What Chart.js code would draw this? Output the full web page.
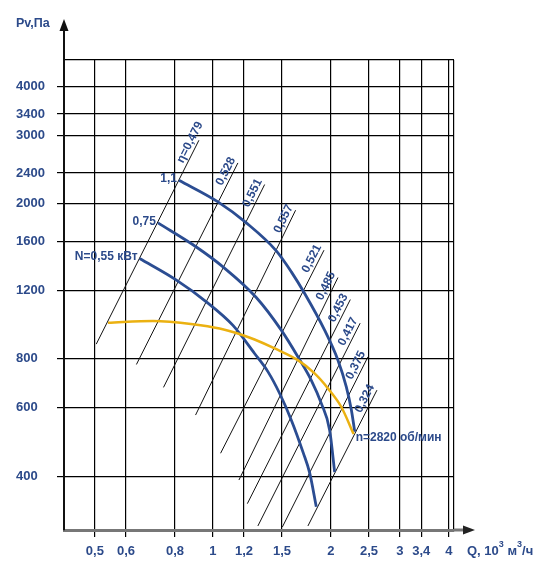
<!DOCTYPE html>
<html lang="ru">
<head>
  <meta charset="UTF-8">
  <title>Pv-Q</title>
  <style>
    body { margin: 0; background: #fff; }
    #wrap { width: 542px; height: 569px; position: relative; }
  </style>
</head>
<body>
<div id="wrap"><canvas id="fanChart"></canvas></div>
<script src="https://cdn.jsdelivr.net/npm/chart.js@4.4.1/dist/chart.umd.min.js"></script>
<script>
  // axes (log-log)
  const qTicks = [0.5, 0.6, 0.8, 1, 1.2, 1.5, 2, 2.5, 3, 3.4, 4];
  const pTicks = [400, 600, 800, 1200, 1600, 2000, 2400, 3000, 3400, 4000];
  const qMin = 0.417, qMax = 4.12;
  const pMin = 291, pMax = 4680;

  // fan curve, n=2820 rpm
  const fanQ = [0.540, 0.703, 0.889, 1.040, 1.193, 1.277, 1.437, 1.647, 1.817, 1.965, 2.126, 2.285];
  const fanP = [990, 1001, 982, 957, 920, 897, 851, 794, 734, 672, 602, 513];

  // power lines N, kW
  const n055Q = [0.650, 0.807, 0.962, 1.125, 1.277, 1.381, 1.480, 1.585, 1.700, 1.765, 1.835];
  const n055P = [1448, 1274, 1121, 975, 826, 742, 652, 557, 459, 408, 334];
  const n075Q = [0.724, 0.907, 1.061, 1.290, 1.494, 1.647, 1.782, 1.890, 1.985, 2.044];
  const n075P = [1787, 1550, 1378, 1150, 948, 810, 705, 615, 525, 410];
  const n110Q = [0.819, 1.030, 1.217, 1.451, 1.585, 1.714, 1.927, 2.084, 2.189, 2.255, 2.300];
  const n110P = [2299, 2023, 1787, 1515, 1338, 1177, 948, 794, 678, 591, 520];
  const powerLabels = ['N=0,55 кВт', '0,75', '1,1'];

  // efficiency lines, low and high ends
  const etaLabels = ['η=0,479', '0,528', '0,551', '0,557', '0,521', '0,485', '0,453', '0,417', '0,375', '0,324'];
  const etaQLow  = [0.504, 0.638, 0.748, 0.903, 1.046, 1.165, 1.224, 1.302, 1.503, 1.747];
  const etaPLow  = [873, 774, 676, 574, 458, 391, 340, 298, 296, 298];
  const etaQHigh = [0.921, 1.158, 1.355, 1.625, 1.920, 2.084, 2.241, 2.374, 2.486, 2.620];
  const etaPHigh = [2912, 2547, 2242, 1926, 1521, 1294, 1136, 988, 810, 665];

  const navy = '#2c4a8a';
  const blue = '#2b4d92';
  const yellow = '#ebb111';
  const family = '"Liberation Sans", Arial, sans-serif';

  function pts(qs, ps) {
    return qs.map((q, i) => ({ x: q, y: ps[i] }));
  }

  const datasets = [];
  datasets.push({
    data: pts(fanQ, fanP), borderColor: yellow, borderWidth: 2.5,
    cubicInterpolationMode: 'monotone', order: 0
  });
  [[n055Q, n055P], [n075Q, n075P], [n110Q, n110P]].forEach(function (c) {
    datasets.push({
      data: pts(c[0], c[1]), borderColor: blue, borderWidth: 2.8,
      cubicInterpolationMode: 'monotone', order: 1
    });
  });
  etaLabels.forEach(function (lab, i) {
    datasets.push({
      data: [{ x: etaQLow[i], y: etaPLow[i] }, { x: etaQHigh[i], y: etaPHigh[i] }],
      borderColor: '#111', borderWidth: 1, order: 2
    });
  });

  function edgeTick(list) {
    return function (ctx) {
      return ctx.tick && !list.includes(ctx.tick.value) ? 'rgba(0,0,0,0)' : '#000';
    };
  }

  // arrows, axis names and curve labels
  const overlay = {
    id: 'overlay',
    afterDraw(chart) {
      const ctx = chart.ctx, a = chart.chartArea;
      const x = chart.scales.x, y = chart.scales.y;
      ctx.save();

      // y axis going up to the arrow
      ctx.strokeStyle = '#111';
      ctx.lineWidth = 2;
      ctx.beginPath();
      ctx.moveTo(a.left, a.top);
      ctx.lineTo(a.left, 28);
      ctx.stroke();
      ctx.fillStyle = '#111';
      ctx.beginPath();
      ctx.moveTo(a.left, 19);
      ctx.lineTo(a.left - 4.5, 31);
      ctx.lineTo(a.left + 4.5, 31);
      ctx.closePath();
      ctx.fill();

      // x axis going right to the arrow
      ctx.strokeStyle = '#777';
      ctx.lineWidth = 3;
      ctx.beginPath();
      ctx.moveTo(a.right, a.bottom);
      ctx.lineTo(466, a.bottom);
      ctx.stroke();
      ctx.fillStyle = '#222';
      ctx.beginPath();
      ctx.moveTo(475, a.bottom);
      ctx.lineTo(463, a.bottom - 4.5);
      ctx.lineTo(463, a.bottom + 4.5);
      ctx.closePath();
      ctx.fill();

      ctx.fillStyle = navy;
      ctx.font = 'bold 12.5px ' + family;
      ctx.textAlign = 'left';
      ctx.textBaseline = 'middle';
      ctx.fillText('Pv,Па', 16, 24);

      // Q, 10^3 m^3/h
      let cx = 467;
      const cy = 551;
      const parts = [['Q, 10', false], ['3', true], [' м', false], ['3', true], ['/ч', false]];
      parts.forEach(function (p) {
        ctx.font = (p[1] ? 'bold 9px ' : 'bold 13px ') + family;
        ctx.fillText(p[0], cx, p[1] ? cy - 6 : cy);
        cx += ctx.measureText(p[0]).width;
      });

      // power labels at curve starts
      ctx.font = 'bold 12px ' + family;
      ctx.textAlign = 'right';
      ctx.textBaseline = 'alphabetic';
      [[n055Q, n055P], [n075Q, n075P], [n110Q, n110P]].forEach(function (c, i) {
        const px = x.getPixelForValue(c[0][0]);
        const py = y.getPixelForValue(c[1][0]);
        ctx.fillText(powerLabels[i], px - 2, py + 2);
      });

      // efficiency labels along the lines
      ctx.textAlign = 'left';
      ctx.textBaseline = 'middle';
      etaLabels.forEach(function (lab, i) {
        const x0 = x.getPixelForValue(etaQLow[i]), y0 = y.getPixelForValue(etaPLow[i]);
        const x1 = x.getPixelForValue(etaQHigh[i]), y1 = y.getPixelForValue(etaPHigh[i]);
        const len = Math.hypot(x1 - x0, y1 - y0);
        const ux = (x1 - x0) / len, uy = (y1 - y0) / len;
        ctx.save();
        ctx.translate(x1 - 28 * ux, y1 - 28 * uy);
        ctx.rotate(Math.atan2(uy, ux));
        ctx.fillText(lab, 0, -7);
        ctx.restore();
      });

      // speed label at the end of the fan curve
      const ex = x.getPixelForValue(fanQ[fanQ.length - 1]);
      const ey = y.getPixelForValue(fanP[fanP.length - 1]);
      ctx.fillText('n=2820 об/мин', ex + 2, ey + 4);

      ctx.restore();
    }
  };

  new Chart(document.getElementById('fanChart'), {
    type: 'scatter',
    data: { datasets: datasets },
    options: {
      responsive: true,
      maintainAspectRatio: false,
      animation: false,
      events: [],
      showLine: true,
      elements: { point: { radius: 0 }, line: { fill: false } },
      layout: { padding: { left: 16, right: 88, top: 60, bottom: 0 } },
      plugins: { legend: { display: false }, tooltip: { enabled: false } },
      scales: {
        x: {
          type: 'logarithmic',
          min: qMin, max: qMax,
          bounds: 'data',
          afterBuildTicks: function (s) { s.ticks = qTicks.concat([qMax]).map(v => ({ value: v })); },
          afterFit: function (s) { s.height = 39; },
          grid: { color: '#000', lineWidth: 1.2, tickLength: 7, tickColor: edgeTick(qTicks) },
          border: { display: true, color: '#777', width: 3 },
          ticks: {
            autoSkip: false, maxRotation: 0, padding: 7,
            color: navy, font: { family: family, size: 13, weight: 'bold' },
            callback: function (v) { return qTicks.includes(v) ? String(v).replace('.', ',') : ''; }
          }
        },
        y: {
          type: 'logarithmic',
          min: pMin, max: pMax,
          bounds: 'data',
          afterBuildTicks: function (s) { s.ticks = pTicks.concat([pMax]).map(v => ({ value: v })); },
          afterFit: function (s) { s.width = 48; },
          grid: { color: '#000', lineWidth: 1.2, tickLength: 7, tickColor: edgeTick(pTicks) },
          border: { display: true, color: '#111', width: 2 },
          ticks: {
            autoSkip: false, crossAlign: 'far',
            color: navy, font: { family: family, size: 13, weight: 'bold' },
            callback: function (v) { return pTicks.includes(v) ? String(v) : ''; }
          }
        }
      }
    },
    plugins: [overlay]
  });
</script>
</body>
</html>
